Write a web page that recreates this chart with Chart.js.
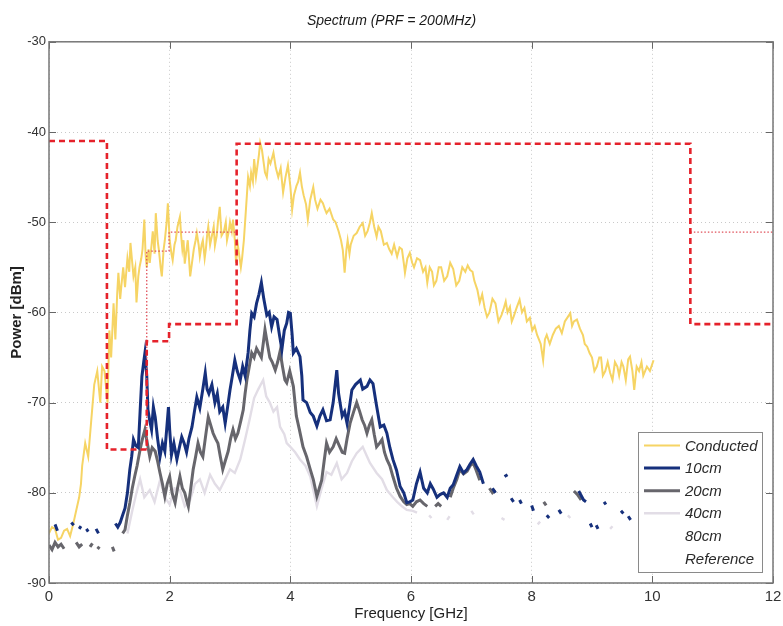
<!DOCTYPE html>
<html>
<head>
<meta charset="utf-8">
<script src="https://cdn.jsdelivr.net/npm/chart.js@4.4.1/dist/chart.umd.min.js"></script>
<style>
  body { margin: 0; background: #fff; }
  #wrap { width: 783px; height: 626px; }
</style>
</head>
<body>
<div id="wrap"><canvas id="spectrumChart"></canvas></div>
<script>
// axis ticks
const freqTicks = [0, 2, 4, 6, 8, 10, 12];
const powerTicks = [-90, -80, -70, -60, -50, -40, -30];

// Conducted
const condFreq = [
    0.0, 0.05, 0.1, 0.15, 0.2, 0.25, 0.3, 0.35, 0.4, 0.45,
    0.5, 0.53, 0.55, 0.58, 0.6, 0.65, 0.7, 0.75, 0.8, 0.85,
    0.88, 0.92, 0.97, 1.0, 1.03, 1.07, 1.1, 1.13, 1.15, 1.18,
    1.2, 1.23, 1.26, 1.3, 1.33, 1.35, 1.38, 1.4, 1.43, 1.45,
    1.48, 1.5, 1.53, 1.55, 1.58, 1.6, 1.62, 1.65, 1.67, 1.7,
    1.72, 1.75, 1.77, 1.8, 1.82, 1.85, 1.87, 1.9, 1.92, 1.95,
    1.97, 2.0, 2.03, 2.05, 2.08, 2.1, 2.13, 2.17, 2.19, 2.21,
    2.23, 2.25, 2.28, 2.3, 2.32, 2.34, 2.37, 2.4, 2.43, 2.45,
    2.48, 2.5, 2.53, 2.55, 2.58, 2.6, 2.62, 2.64, 2.67, 2.7,
    2.73, 2.75, 2.78, 2.8, 2.83, 2.86, 2.9, 2.93, 2.95, 2.98,
    3.0, 3.03, 3.05, 3.08, 3.1, 3.13, 3.15, 3.18, 3.2, 3.23,
    3.25, 3.28, 3.3, 3.33, 3.35, 3.38, 3.4, 3.43, 3.45, 3.48,
    3.5, 3.53, 3.55, 3.58, 3.61, 3.64, 3.67, 3.7, 3.72, 3.76,
    3.8, 3.84, 3.88, 3.92, 3.96, 4.0, 4.03, 4.06, 4.1, 4.13,
    4.16, 4.19, 4.22, 4.26, 4.29, 4.33, 4.38, 4.41, 4.45, 4.5,
    4.54, 4.57, 4.6, 4.65, 4.71, 4.75, 4.8, 4.84, 4.87, 4.9,
    4.93, 4.95, 4.98, 5.0, 5.05, 5.1, 5.15, 5.2, 5.24, 5.28,
    5.32, 5.35, 5.39, 5.43, 5.46, 5.5, 5.55, 5.6, 5.64, 5.68,
    5.72, 5.77, 5.81, 5.85, 5.88, 5.9, 5.94, 5.98, 6.02, 6.05,
    6.1, 6.15, 6.2, 6.24, 6.27, 6.31, 6.35, 6.38, 6.42, 6.46,
    6.5, 6.55, 6.6, 6.65, 6.7, 6.75, 6.8, 6.85, 6.9, 6.94,
    6.98, 7.02, 7.05, 7.1, 7.14, 7.18, 7.22, 7.26, 7.3, 7.35,
    7.4, 7.45, 7.5, 7.54, 7.57, 7.6, 7.64, 7.67, 7.7, 7.75,
    7.8, 7.84, 7.88, 7.92, 7.97, 8.01, 8.05, 8.09, 8.12, 8.15,
    8.19, 8.22, 8.25, 8.3, 8.35, 8.4, 8.45, 8.5, 8.55, 8.6,
    8.64, 8.67, 8.7, 8.75, 8.8, 8.85, 8.88, 8.92, 8.96, 9.0,
    9.04, 9.08, 9.12, 9.15, 9.18, 9.22, 9.26, 9.3, 9.34, 9.38,
    9.42, 9.45, 9.49, 9.52, 9.56, 9.6, 9.63, 9.67, 9.7, 9.74,
    9.78, 9.82, 9.85, 9.88, 9.91, 9.96, 10.02
];
const condPower = [
    -84.5, -83.8, -84, -85.2, -85, -84.2, -84, -84.8, -83.5, -82,
    -80.5, -79, -77, -75.5, -74.5, -76, -72, -68, -66.5, -70,
    -66, -66.5, -70, -62, -65, -59, -63, -58, -55.6, -58.5,
    -57, -55, -57.2, -54, -55.5, -52.3, -54.5, -56, -55, -58.9,
    -56, -55, -54, -53, -49.7, -53.5, -55, -53, -54.5, -52.5,
    -51, -53.5, -49, -52, -53, -55, -56, -53, -52, -50,
    -47.9, -52, -53.5, -54.2, -52.5, -52, -50.5, -49.4, -51.5, -53,
    -52, -54.6, -53, -52, -54, -56, -54.5, -53, -52, -51.2,
    -52.5, -53.8, -52.5, -52, -54, -53, -51.5, -50.5, -52.5, -51.5,
    -50.5, -52.6, -51.5, -50, -48.3, -51.5, -51, -50, -52, -51,
    -50, -51, -49.7, -52, -54.5, -52.5, -53.5, -55, -54, -52,
    -50, -47, -45, -46, -44.5, -45.5, -43, -45, -44, -42.5,
    -41.2, -42, -43, -44.5, -45, -43, -43.5, -42.8, -42.3, -44,
    -45, -44, -46.7, -45, -43.7, -46, -48.6, -47, -46, -45.5,
    -44.5, -46, -47, -48, -49.7, -47.5, -46.1, -47.5, -48.5, -47.5,
    -47.9, -48.5, -49, -48.5, -49.7, -50, -51, -52, -53.1, -55.6,
    -53, -52, -53.5, -52.5, -51.5, -51.2, -50.5, -50.1, -51.5, -51,
    -50, -49, -50.5, -51.6, -50.5, -51, -52.5, -52.3, -53, -53.5,
    -52.5, -53.8, -52.8, -53, -54.5, -55.6, -54, -53.4, -54.5, -55,
    -54, -54.2, -55.5, -55, -56.7, -55, -55.5, -57, -56.5, -55,
    -55, -56.5, -56, -54.5, -55.2, -57, -56.5, -55, -55.5, -54.8,
    -55.3, -55.5, -56.5, -57.5, -58.9, -58, -59.5, -60.5, -60, -58.5,
    -59, -61, -60.3, -59.5, -58.8, -60, -59.4, -61, -60.5, -59.5,
    -58.6, -60, -59.5, -61, -60.6, -62, -61.5, -62.5, -63, -63.5,
    -65.3, -63, -62.5, -63.5, -62.5, -61.8, -61.5, -62.3, -61, -60.5,
    -60.1, -61.5, -61, -60.8, -61.8, -62.5, -63.5, -63.8, -64.5, -65,
    -66.5, -66, -65, -65, -67, -66.5, -65.5, -66.7, -67.5, -65.5,
    -66, -67, -65.5, -66, -67.5, -65.2, -64.9, -66.5, -68.6, -66,
    -66.5, -65.5, -67, -66.5, -66, -66.5, -65.3
];

// 10cm (null = gap in the trace)
const cm10Freq = [
    0.1, 0.14, 0.16, 0.37, 0.41, 0.43, 0.5, 0.53, 0.55, 0.62,
    0.65, 0.67, 0.78, 0.82, 0.84, 1.1, 1.14, 1.18, 1.22, 1.26,
    1.3, 1.34, 1.37, 1.4, 1.44, 1.48, 1.51, 1.54, 1.57, 1.59,
    1.62, 1.64, 1.67, 1.7, 1.73, 1.76, 1.8, 1.84, 1.88, 1.92,
    1.95, 1.98, 2.0, 2.03, 2.07, 2.12, 2.16, 2.2, 2.24, 2.28,
    2.32, 2.37, 2.41, 2.45, 2.5, 2.55, 2.59, 2.62, 2.65, 2.7,
    2.75, 2.79, 2.83, 2.88, 2.92, 2.96, 3.0, 3.04, 3.08, 3.12,
    3.17, 3.21, 3.25, 3.3, 3.33, 3.36, 3.4, 3.44, 3.48, 3.52,
    3.56, 3.61, 3.65, 3.69, 3.73, 3.78, 3.82, 3.86, 3.9, 3.94,
    3.97, 4.0, 4.03, 4.05, 4.1, 4.16, 4.19, 4.21, 4.27, 4.33,
    4.38, 4.44, 4.49, 4.54, 4.6, 4.66, 4.71, 4.77, 4.8, 4.86,
    4.9, 4.94, 4.98, 5.02, 5.08, 5.16, 5.2, 5.27, 5.32, 5.37,
    5.42, 5.49, 5.55, 5.6, 5.65, 5.7, 5.76, 5.82, 5.88, 5.93,
    5.98, 6.03, 6.09, 6.15, 6.21, 6.27, 6.32, 6.37, 6.43, 6.48,
    6.54, 6.6, 6.65, 6.7, 6.76, 6.81, 6.87, 6.93, 6.98, 7.03,
    7.08, 7.14, 7.2, 7.22, 7.35, 7.4, 7.42, 7.55, 7.6, 7.62,
    7.66, 7.7, 7.72, 7.8, 7.83, 7.85, 8.0, 8.03, 8.05, 8.25,
    8.29, 8.31, 8.45, 8.49, 8.51, 8.78, 8.86, 8.9, 8.92, 8.97,
    9.0, 9.02, 9.07, 9.1, 9.12, 9.2, 9.23, 9.25, 9.48, 9.52,
    9.54, 9.6, 9.64
];
const cm10Power = [
    -83.5, -84.2, null, -83.3, -83.6, null, -84, -83.7, null, -84,
    -84.3, null, -84, -84.5, null, -83.4, -83.8, -83.3, -82.5, -81.7,
    -80, -77.4, -76, -74.1, -74.8, -75, -71, -67.1, -65.5, -64.5,
    -67, -70.8, -72, -73, -70.5, -71.6, -74, -76, -74.5, -75.4,
    -73, -70.5, -73, -75.8, -74.5, -76.3, -75, -73.8, -74.5, -75.5,
    -74, -72.7, -71, -69.4, -70.6, -68.5, -66.7, -68.5, -69, -68,
    -70, -69, -71, -70.5, -72.3, -70.5, -68.6, -67, -65.3, -66.5,
    -67.5, -66, -67, -64.5, -62, -60.1, -60.5, -59, -58, -56.7,
    -58.5, -60.3, -60, -61.6, -60.5, -60.8, -62.5, -64.1, -62, -61.2,
    -60, -60.1, -62.5, -64.5, -64, -64.9, -67, -69.7, -70, -71.1,
    -71.5, -72.6, -71.5, -70.8, -72, -71.9, -70, -66.4, -69, -71.5,
    -71, -72.3, -70.5, -68.6, -68, -67.5, -68.5, -68.2, -67.5, -67.9,
    -70, -72.7, -72.5, -73.4, -75, -76.3, -77.5, -79.3, -80, -81.1,
    -81, -80.8, -79, -77.7, -79.5, -80, -79, -79.6, -80.5, -80.2,
    -80, -80.5, -79.5, -79.1, -78, -77.1, -77.8, -77.4, -76.8, -76.3,
    -77, -77.7, -79, null, -79.5, -80, null, -78.2, -78, null,
    -80.6, -81, null, -80.8, -81.2, null, -81.4, -82, null, -82.5,
    -82.8, null, -81.9, -82.3, null, -79.8, -80.8, -81, null, -83.4,
    -83.8, null, -83.6, -84, null, -81, -81.3, null, -82, -82.3,
    null, -82.6, -83
];

// 20cm
const cm20Freq = [
    0.0, 0.05, 0.1, 0.15, 0.2, 0.25, 0.27, 0.45, 0.5, 0.55,
    0.57, 0.68, 0.72, 0.74, 0.8, 0.84, 0.86, 1.05, 1.08, 1.1,
    1.22, 1.26, 1.3, 1.34, 1.38, 1.42, 1.46, 1.51, 1.55, 1.59,
    1.63, 1.67, 1.71, 1.76, 1.8, 1.84, 1.88, 1.92, 1.96, 2.0,
    2.04, 2.09, 2.13, 2.17, 2.21, 2.25, 2.28, 2.31, 2.35, 2.39,
    2.43, 2.47, 2.51, 2.55, 2.6, 2.64, 2.68, 2.72, 2.76, 2.8,
    2.84, 2.88, 2.92, 2.97, 3.01, 3.05, 3.09, 3.13, 3.18, 3.22,
    3.25, 3.28, 3.32, 3.36, 3.4, 3.44, 3.48, 3.52, 3.55, 3.58,
    3.62, 3.66, 3.7, 3.75, 3.79, 3.83, 3.87, 3.91, 3.94, 3.99,
    4.05, 4.1, 4.15, 4.21, 4.27, 4.33, 4.38, 4.44, 4.48, 4.52,
    4.56, 4.6, 4.65, 4.71, 4.76, 4.82, 4.86, 4.9, 4.94, 4.99,
    5.05, 5.1, 5.15, 5.19, 5.23, 5.27, 5.31, 5.35, 5.39, 5.43,
    5.48, 5.52, 5.56, 5.6, 5.65, 5.7, 5.76, 5.82, 5.88, 5.93,
    5.98, 6.03, 6.09, 6.15, 6.21, 6.27, 6.3, 6.4, 6.45, 6.5,
    6.52, 6.65, 6.7, 6.76, 6.81, 6.87, 6.93, 6.98, 7.03, 7.08,
    7.14, 7.17, 7.3, 7.35, 7.4, 7.42, 8.2, 8.24, 8.26, 8.7,
    8.76, 8.82
];
const cm20Power = [
    -85.8, -86.3, -85.5, -86, -85.7, -86.2, null, -85.5, -86, -85.7,
    null, -86, -85.6, null, -86, -86.2, null, -86, -86.5, null,
    -84.5, -84.1, -82.5, -81.1, -79.5, -78.2, -77, -75.2, -74, -73,
    -74.5, -76, -75, -75.4, -76.5, -77.8, -79, -80.4, -79, -78.2,
    -80, -81.1, -79.5, -78.2, -79.5, -80, -80.8, -81.5, -79.5, -77.4,
    -76, -74.5, -75.5, -76, -73.5, -71.6, -72.5, -73.4, -74, -74.5,
    -76, -77.4, -76.5, -75.4, -74, -73, -74, -73.4, -72, -70.8,
    -69, -67.5, -66, -64.5, -65, -64, -64.5, -65, -63.5, -61.9,
    -63.5, -65, -65.5, -66.4, -65.5, -64.3, -66, -67.5, -67.8, -66.5,
    -68.2, -71.5, -73, -74.9, -76, -77.4, -78.5, -80.4, -79.5, -78.6,
    -76.5, -74.5, -75.5, -74.9, -74, -74.9, -75.5, -75.6, -74, -72.3,
    -71, -70, -71, -71.9, -72.5, -73.4, -72.5, -71.9, -73.5, -74.9,
    -74.5, -74.1, -75.5, -76.3, -77, -78.2, -79.5, -80.4, -81, -81.3,
    -81.2, -81.5, -81, -80.8, -81.2, -81.5, null, -81.5, -81.2, -81.5,
    null, -80.5, -79.5, -78.5, -77.4, -77.9, -77.6, -77, -76.7, -77.5,
    -78.6, null, -79.5, -80, -79.7, null, -81, -81.4, null, -79.8,
    -80.2, -80.8
];

// 40cm
const cm40Freq = [
    1.3, 1.38, 1.45, 1.51, 1.58, 1.67, 1.75, 1.84, 1.92, 2.0,
    2.08, 2.17, 2.25, 2.34, 2.42, 2.5, 2.58, 2.67, 2.75, 2.83,
    2.92, 3.0, 3.08, 3.17, 3.25, 3.32, 3.4, 3.47, 3.55, 3.6,
    3.66, 3.72, 3.78, 3.83, 3.9, 3.94, 4.0, 4.08, 4.16, 4.25,
    4.33, 4.44, 4.52, 4.6, 4.68, 4.77, 4.85, 4.94, 5.02, 5.1,
    5.2, 5.26, 5.32, 5.43, 5.52, 5.6, 5.7, 5.77, 5.85, 5.93,
    6.03, 6.1, 6.12, 6.3, 6.34, 6.36, 6.6, 6.64, 6.66, 7.0,
    7.04, 7.06, 7.5, 7.55, 7.57, 8.1, 8.14, 8.16, 8.6, 8.64,
    8.66, 9.3, 9.34, 9.36, 9.8, 9.84, 9.86, 10.2, 10.25
];
const cm40Power = [
    -84.5, -82, -80, -78.5, -80.5, -79.7, -81, -78.6, -80.5, -81.3,
    -79.5, -79.7, -81.5, -80.8, -79, -78.5, -80, -78, -79, -79.7,
    -78.5, -77.4, -77.8, -76.3, -74.1, -72, -69.5, -68.5, -67.5, -69.3,
    -70, -71, -70.5, -72.7, -73.5, -74.5, -74.9, -75.5, -76.3, -77,
    -78.2, -81.5, -79.5, -77.7, -78, -76.7, -78.5, -77.8, -76.5, -75.6,
    -74.9, -75.8, -76.7, -77.8, -78.5, -79.7, -80.5, -81, -81.5, -81.9,
    -82, -82.2, null, -82.5, -82.8, null, -83, -82.6, null, -82,
    -82.4, null, -82.8, -83, null, -83.5, -83.2, null, -82.5, -82.8,
    null, -84, -83.7, null, -81.8, -82, null, -83.5, -84
];

// 80cm and Reference have no visible trace in the picture
const cm80Freq = [];
const cm80Power = [];
const refFreq = [];
const refPower = [];

// emission mask (dashed) and indoor limit (dotted)
const maskFreq = [0, 0.96, 0.96, 1.62, 1.62, 1.99, 1.99, 3.11, 3.11, 10.63, 10.63, 12];
const maskPower = [-41, -41, -75.2, -75.2, -63.2, -63.2, -61.3, -61.3, -41.3, -41.3, -61.3, -61.3];
const limitFreq = [1.62, 1.62, 1.99, 1.99, 3.11, 3.11, 10.63, 12];
const limitPower = [-75.2, -53.2, -53.2, -51.1, -51.1, null, -51.1, -51.1];

const FONT = "'Liberation Sans', Arial, sans-serif";

function pts(freq, power) {
    return freq.map((f, i) => ({ x: f, y: power[i] }));
}

function trace(label, freq, power, color, width, order, extra) {
    return Object.assign({
        label: label,
        data: pts(freq, power),
        borderColor: color,
        backgroundColor: color,
        borderWidth: width,
        pointRadius: 0,
        tension: 0,
        spanGaps: false,
        order: order,
        inLegend: true
    }, extra || {});
}

// draws the box frame, inner ticks and the legend inside the plot
const framePlugin = {
    id: 'framePlugin',
    afterDatasetsDraw(chart) {
        const { ctx, chartArea: a, scales } = chart;
        ctx.save();
        ctx.strokeStyle = '#666';
        ctx.lineWidth = 1;
        freqTicks.forEach(v => {
            const px = Math.round(scales.x.getPixelForValue(v)) + 0.5;
            ctx.beginPath();
            ctx.moveTo(px, a.bottom); ctx.lineTo(px, a.bottom - 7);
            ctx.moveTo(px, a.top); ctx.lineTo(px, a.top + 7);
            ctx.stroke();
        });
        powerTicks.forEach(v => {
            const py = Math.round(scales.y.getPixelForValue(v)) + 0.5;
            ctx.beginPath();
            ctx.moveTo(a.left, py); ctx.lineTo(a.left + 7, py);
            ctx.moveTo(a.right, py); ctx.lineTo(a.right - 7, py);
            ctx.stroke();
        });
        ctx.lineWidth = 1.5;
        ctx.strokeStyle = '#777';
        ctx.strokeRect(a.left, a.top, a.right - a.left, a.bottom - a.top);

        // legend
        const items = chart.data.datasets.filter(d => d.inLegend);
        const boxW = 124, boxH = 140;
        const bx = a.right - 11 - boxW;
        const by = a.bottom - 11 - boxH;
        ctx.fillStyle = '#fff';
        ctx.fillRect(bx, by, boxW, boxH);
        ctx.lineWidth = 1;
        ctx.strokeStyle = '#8a8a8a';
        ctx.strokeRect(bx + 0.5, by + 0.5, boxW, boxH);
        ctx.font = 'italic 15px ' + FONT;
        ctx.textBaseline = 'middle';
        ctx.textAlign = 'left';
        items.forEach((d, i) => {
            const y = by + 13.5 + i * 22.6;
            if (d.legendLine !== false) {
                ctx.strokeStyle = d.borderColor;
                ctx.lineWidth = d.borderWidth;
                ctx.beginPath();
                ctx.moveTo(bx + 6, y);
                ctx.lineTo(bx + 42, y);
                ctx.stroke();
            }
            ctx.fillStyle = '#2a2a2a';
            ctx.fillText(d.label, bx + 47, y + 1);
        });
        ctx.restore();
    }
};

document.addEventListener('DOMContentLoaded', function () {
    const ctx = document.getElementById('spectrumChart');

    new Chart(ctx, {
        type: 'line',
        data: {
            datasets: [
                { label: 'mask', data: pts(maskFreq, maskPower), borderColor: '#e5222b', borderWidth: 2.6,
                  borderDash: [6, 4], pointRadius: 0, tension: 0, order: 0 },
                { label: 'limit', data: pts(limitFreq, limitPower), borderColor: '#e0505a', borderWidth: 1.3,
                  borderDash: [1.5, 2], pointRadius: 0, tension: 0, spanGaps: false, order: 1 },
                trace('Conducted', condFreq, condPower, '#f6d464', 2, 6),
                trace('10cm', cm10Freq, cm10Power, '#16307c', 3, 2),
                trace('20cm', cm20Freq, cm20Power, '#67666c', 3, 3),
                trace('40cm', cm40Freq, cm40Power, '#e2dde6', 2.4, 4),
                trace('80cm', cm80Freq, cm80Power, '#ffffff', 2, 5, { legendLine: false }),
                trace('Reference', refFreq, refPower, '#ffffff', 2, 5, { legendLine: false })
            ]
        },
        options: {
            responsive: true,
            maintainAspectRatio: false,
            animation: false,
            layout: { padding: { top: 0, right: 0, left: 0, bottom: 0 } },
            plugins: {
                legend: { display: false },
                tooltip: { enabled: false },
                title: {
                    display: true,
                    text: 'Spectrum (PRF = 200MHz)',
                    color: '#1a1a1a',
                    font: { family: FONT, size: 14, style: 'italic', weight: 'normal' },
                    padding: { top: 13, bottom: 12 }
                }
            },
            scales: {
                x: {
                    type: 'linear',
                    min: 0,
                    max: 12,
                    afterFit: s => { s.height = 43; s.paddingRight = 10; s.paddingLeft = 0; },
                    afterBuildTicks: s => { s.ticks = freqTicks.map(v => ({ value: v })); },
                    ticks: { color: '#333', font: { family: FONT, size: 15 }, padding: 5, maxRotation: 0 },
                    grid: { color: '#c9c9c9', lineWidth: 1, drawTicks: false },
                    border: { display: false, dash: [1, 3] },
                    title: { display: true, text: 'Frequency [GHz]', color: '#222',
                             font: { family: FONT, size: 15 }, padding: { top: 0, bottom: 3 } }
                },
                y: {
                    min: -90,
                    max: -30,
                    afterFit: s => { s.width = 49; },
                    afterBuildTicks: s => { s.ticks = powerTicks.map(v => ({ value: v })); },
                    ticks: { color: '#333', font: { family: FONT, size: 13 }, padding: 3 },
                    grid: { color: '#c9c9c9', lineWidth: 1, drawTicks: false },
                    border: { display: false, dash: [1, 3] },
                    title: { display: true, text: 'Power [dBm]', color: '#222',
                             font: { family: FONT, size: 15, weight: 'bold' }, padding: { top: 8, bottom: 0 } }
                }
            }
        },
        plugins: [framePlugin]
    });
});
</script>
</body>
</html>
